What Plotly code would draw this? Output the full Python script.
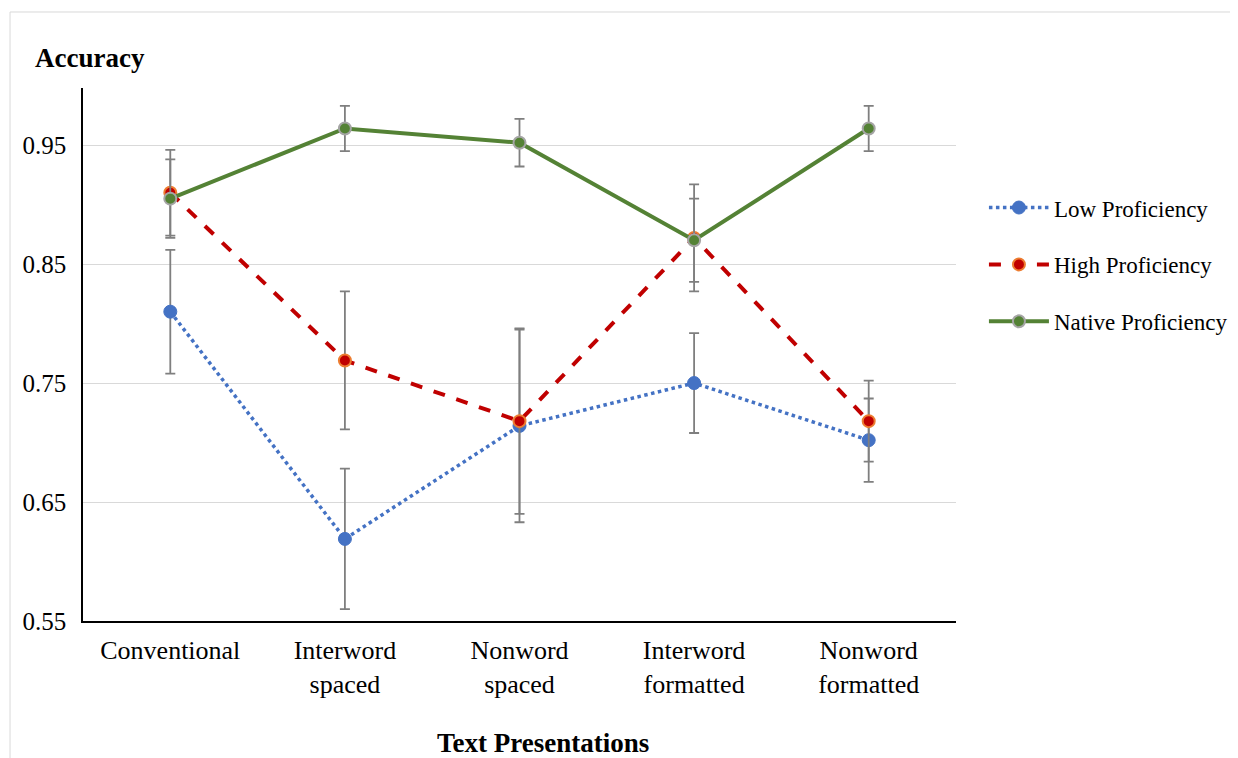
import plotly.graph_objects as go

categories = ["Conventional", "Interword<br>spaced", "Nonword<br>spaced", "Interword<br>formatted", "Nonword<br>formatted"]

low_vals = [0.810, 0.619, 0.714, 0.750, 0.702]
low_err = [0.052, 0.059, 0.081, 0.042, 0.035]

high_vals = [0.910, 0.769, 0.718, 0.872, 0.718]
high_err = [0.036, 0.058, 0.078, 0.045, 0.034]

native_vals = [0.905, 0.964, 0.952, 0.870, 0.964]
native_err = [0.033, 0.019, 0.020, 0.035, 0.019]

y_ticks = [0.55, 0.65, 0.75, 0.85, 0.95]
y_tick_labels = ["0.55", "0.65", "0.75", "0.85", "0.95"]

FONT = "Liberation Serif, Times New Roman, serif"
ERR = dict(type="data", visible=True, color="#7f7f7f", thickness=1.8, width=5)

fig = go.Figure()
fig.add_trace(go.Scatter(
    x=categories, y=low_vals, name="Low Proficiency", mode="lines+markers",
    line=dict(color="#4472C4", width=3.5, dash="dot"),
    marker=dict(color="#4472C4", size=13, line=dict(color="#4472C4", width=1)),
    error_y=dict(array=low_err, **ERR), legendgroup="a"))
fig.add_trace(go.Scatter(
    x=categories, y=high_vals, name="High Proficiency", mode="lines+markers",
    line=dict(color="#C00000", width=4, dash="dash"),
    marker=dict(color="#C00000", size=12, line=dict(color="#ED7D31", width=2)),
    error_y=dict(array=high_err, **ERR), legendgroup="b"))
fig.add_trace(go.Scatter(
    x=categories, y=native_vals, name="Native Proficiency", mode="lines+markers",
    line=dict(color="#548235", width=4),
    marker=dict(color="#548235", size=12, line=dict(color="#A5A5A5", width=2)),
    error_y=dict(array=native_err, **ERR), legendgroup="c"))

fig.update_layout(
    width=1238, height=750,
    margin=dict(l=75, r=290, t=80, b=137),
    paper_bgcolor="white", plot_bgcolor="white",
    font=dict(family=FONT, color="black", size=18),
    showlegend=True,
    legend=dict(x=1.032, y=0.816, xanchor="left", yanchor="top",
                font=dict(family=FONT, size=23, color="black"),
                tracegroupgap=24, itemwidth=60, bgcolor="rgba(0,0,0,0)"),
    xaxis=dict(showline=True, linecolor="black", linewidth=1.5, ticks="",
               showgrid=False, tickfont=dict(family=FONT, size=26),
               range=[-0.5, 4.5], ticklabelstandoff=5),
    yaxis=dict(range=[0.55, 0.998], tickvals=y_ticks, ticktext=y_tick_labels,
               showgrid=True, gridcolor="#d9d9d9", gridwidth=1,
               showline=True, linecolor="black", linewidth=1.5, ticks="",
               zeroline=False, tickfont=dict(family=FONT, size=25),
               ticklabelstandoff=10),
    annotations=[
        dict(text="<b>Accuracy</b>", x=-0.0573, y=1.056, xref="paper", yref="paper",
             xanchor="left", yanchor="middle", showarrow=False,
             font=dict(family=FONT, size=27, color="black")),
        dict(text="<b>Text Presentations</b>", x=0.527, y=-0.229, xref="paper", yref="paper",
             xanchor="center", yanchor="middle", showarrow=False,
             font=dict(family=FONT, size=27, color="black")),
    ],
    shapes=[dict(type="rect", xref="paper", yref="paper",
                 x0=-0.0836, y0=-0.3, x1=1.4, y1=1.1426,
                 line=dict(color="#d9d9d9", width=1), layer="below")],
)

fig.write_html("out.html")
